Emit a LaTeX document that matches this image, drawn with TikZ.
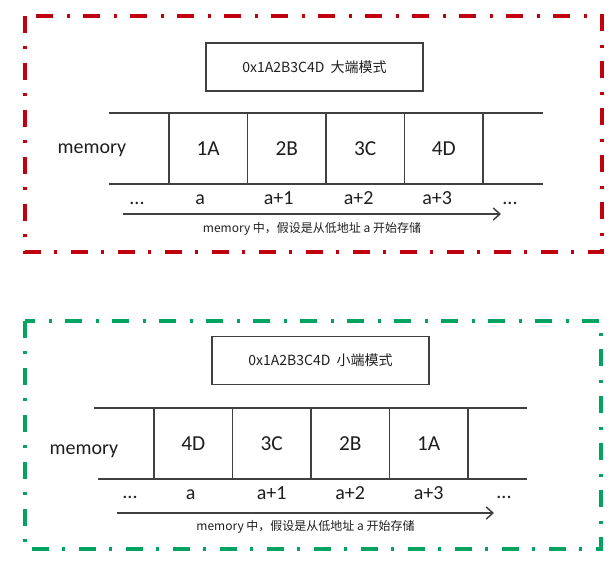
\documentclass[tikz,border=0pt]{standalone}
\usepackage{fontspec}
\setmainfont{Carlito}
\newfontfamily\cjkfont{Noto Sans CJK SC}
\definecolor{frameRed}{HTML}{C0000F}
\definecolor{frameGreen}{HTML}{00A35F}
\definecolor{lineGray}{HTML}{404040}
\definecolor{textInk}{HTML}{1E1E1E}
\usetikzlibrary{arrows.meta, positioning}

\begin{document}
\begin{tikzpicture}[
    x=0.75pt, y=-0.75pt,
    frame/.style={line width=3pt, dash pattern=on 12.75pt off 9.75pt on 2.25pt off 10.5pt},
    titlebox/.style={
      draw=lineGray,
      line width=1pt,
      minimum width=162.75pt,
      minimum height=36pt,
      inner sep=0pt,
      text=textInk,
      font=\cjkfont\fontsize{10.5}{12}\selectfont,
    },
    cell/.style={
      draw=lineGray,
      line width=1.1pt,
      minimum width=58.875pt,
      minimum height=53.25pt,
      inner sep=0pt,
      outer sep=0pt,
      text=textInk,
      font=\fontsize{16}{18}\selectfont,
    },
    addr/.style={text=textInk, font=\fontsize{15}{17}\selectfont, text height=9pt, text depth=0pt, inner sep=1pt},
    lbl/.style={text=textInk, font=\fontsize{15}{17}\selectfont},
    caption/.style={text=textInk, font=\cjkfont\fontsize{9}{11}\selectfont, inner sep=1pt},
    mem/.style={lineGray, line width=1.1pt},
    arr/.style={-{Straight Barb[length=5pt, width=9pt]}, lineGray, line width=1.1pt},
  ]
    \useasboundingbox (0,0) rectangle (613,562);

    % big endian
    \draw[frame, frameRed] (25,16) rectangle (602,252);
    \node[titlebox] (bigTitle) at (314.5,67) {0x1A2B3C4D\ \ 大端模式};

    \node[cell] (big1) at (208.25,148.5) {1A};
    \node[cell, right=0pt of big1] (big2) {2B};
    \node[cell, right=0pt of big2] (big3) {3C};
    \node[cell, right=0pt of big3] (big4) {4D};

    \coordinate (bigTL) at (109,113);
    \coordinate (bigTR) at (543,113);
    \coordinate (bigBL) at (109,184);
    \coordinate (bigBR) at (543,184);
    \draw[mem] (bigTL) -- (big1.north west) (big4.north east) -- (bigTR);
    \draw[mem] (bigBL) -- (big1.south west) (big4.south east) -- (bigBR);

    \node[lbl] (bigMem) at (92,150) {memory};

    \node[addr, below=5pt of big1, xshift=-6pt] (bigA0) {a};
    \node[addr, below=5pt of big2, xshift=-6pt] (bigA1) {a+1};
    \node[addr, below=5pt of big3, xshift=-5pt] (bigA2) {a+2};
    \node[addr, below=5pt of big4, xshift=-5pt] (bigA3) {a+3};
    \node[addr] (bigDotL) at (137,198) {...};
    \node[addr] (bigDotR) at (510,198) {...};

    \coordinate (bigArrL) at (123,214);
    \coordinate (bigArrR) at (501,214);
    \draw[arr] (bigArrL) -- (bigArrR)
      node[caption, midway, below=5pt] (bigCap) {memory 中，假设是从低地址 a 开始存储};

    % little endian
    \draw[frame, frameGreen] (25,321) rectangle (601,549);
    \node[titlebox] (smallTitle) at (320.5,360.5) {0x1A2B3C4D\ \ 小端模式};

    \node[cell] (small1) at (193.25,443.5) {4D};
    \node[cell, right=0pt of small1] (small2) {3C};
    \node[cell, right=0pt of small2] (small3) {2B};
    \node[cell, right=0pt of small3] (small4) {1A};

    \coordinate (smallTL) at (94,408);
    \coordinate (smallTR) at (527,408);
    \coordinate (smallBL) at (98,479);
    \coordinate (smallBR) at (527,479);
    \draw[mem] (smallTL) -- (small1.north west) (small4.north east) -- (smallTR);
    \draw[mem] (smallBL) -- (small1.south west) (small4.south east) -- (smallBR);

    \node[lbl] (smallMem) at (84,451) {memory};

    \node[addr, below=5pt of small1, xshift=-2pt] (smallA0) {a};
    \node[addr, below=5pt of small2] (smallA1) {a+1};
    \node[addr, below=5pt of small3] (smallA2) {a+2};
    \node[addr, below=5pt of small4] (smallA3) {a+3};
    \node[addr] (smallDotL) at (130,492) {...};
    \node[addr] (smallDotR) at (504,492) {...};

    \coordinate (smallArrL) at (117,513);
    \coordinate (smallArrR) at (494,513);
    \draw[arr] (smallArrL) -- (smallArrR)
      node[caption, midway, below=4pt] (smallCap) {memory 中，假设是从低地址 a 开始存储};
  \end{tikzpicture}
\end{document}
